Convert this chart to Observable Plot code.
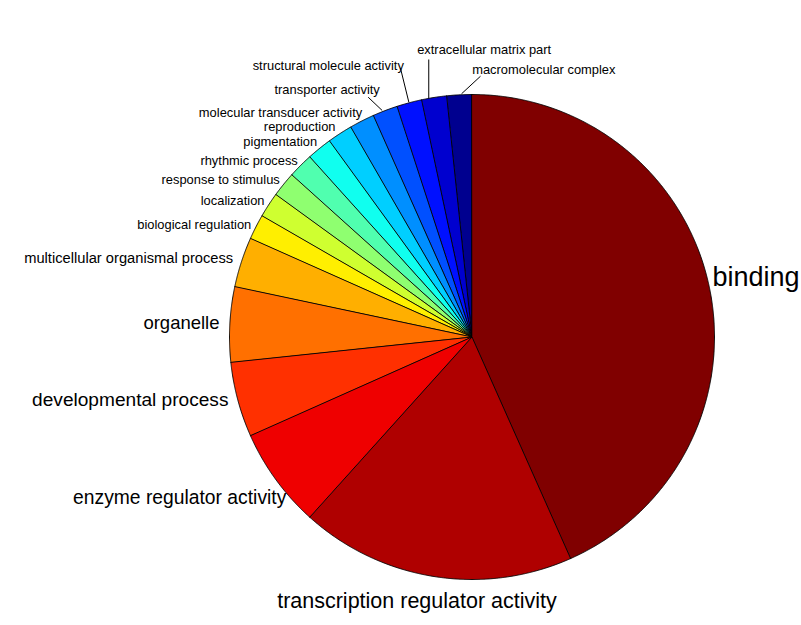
<!DOCTYPE html>
<html>
<head>
<meta charset="utf-8">
<script src="https://cdn.jsdelivr.net/npm/d3@7"></script>
<script src="https://cdn.jsdelivr.net/npm/@observablehq/plot@0.6"></script>
<style>
  html, body { margin: 0; padding: 0; background: #fff; }
</style>
</head>
<body>
<div id="chart"></div>
<script>
// ---- DATA (slices in drawing order: counter-clockwise from 12 o'clock) ----
const categories = [
  "macromolecular complex",
  "extracellular matrix part",
  "structural molecule activity",
  "transporter activity",
  "molecular transducer activity",
  "reproduction",
  "pigmentation",
  "rhythmic process",
  "response to stimulus",
  "localization",
  "biological regulation",
  "multicellular organismal process",
  "organelle",
  "developmental process",
  "enzyme regulator activity",
  "transcription regulator activity",
  "binding"
];
const counts = [1, 1, 1, 1, 1, 1, 1, 1, 1, 1, 1, 2, 3, 3, 4, 11, 26];

// ---- LAYOUT / STYLE (not data) ----
const W = 801, H = 625, CX = 471.5, CY = 336.5, R = 242.5;
// label baseline point offset (px, right/down) from the slice's mid point on the rim
const labelStyle = {
  "macromolecular complex":           {size: 12.9, anchor: "start",  dx: 12.9,  dy: -21.0},
  "extracellular matrix part":        {size: 12.9, anchor: "start",  dx: -16.9, dy: -43.0},
  "structural molecule activity":     {size: 12.9, anchor: "end",    dx: -5.4,  dy: -32.3},
  "transporter activity":             {size: 12.9, anchor: "end",    dx: -5.3,  dy: -16.8},
  "molecular transducer activity":    {size: 12.9, anchor: "end",    dx: 0.3,   dy: -3.7},
  "reproduction":                     {size: 12.9, anchor: "end",    dx: -4.4,  dy: -2.4},
  "pigmentation":                     {size: 12.9, anchor: "end",    dx: -2.2,  dy: -2.1},
  "rhythmic process":                 {size: 12.9, anchor: "end",    dx: -2.7,  dy: -0.7},
  "response to stimulus":             {size: 12.9, anchor: "end",    dx: -3.8,  dy: -0.6},
  "localization":                     {size: 12.9, anchor: "end",    dx: -4.1,  dy: -0.1},
  "biological regulation":            {size: 12.9, anchor: "end",    dx: -4.7,  dy: 1.9},
  "multicellular organismal process": {size: 14.7, anchor: "end",    dx: -8.2,  dy: 1.4},
  "organelle":                        {size: 18.5, anchor: "end",    dx: -10.3, dy: 4.2},
  "developmental process":            {size: 19.1, anchor: "end",    dx: -9.3,  dy: 6.7},
  "enzyme regulator activity":        {size: 19.3, anchor: "end",    dx: 10.5,  dy: 24.0},
  "transcription regulator activity": {size: 21.5, anchor: "middle", dx: -17.1, dy: 31.0},
  "binding":                          {size: 27,   anchor: "start",  dx: 3.3,   dy: -0.1}
};
// leader lines: [inner offset, outer offset] in px from the slice's rim mid point
const leaderStyle = {
  "macromolecular complex":       [[2.2, -1.0], [21.2, -18.6]],
  "extracellular matrix part":    [[-5.3, 1.0], [-5.3, -38.0]],
  "structural molecule activity": [[-0.4, -0.6], [-8.7, -34.3]],
  "transporter activity":         [[-2.9, -0.1], [-16.9, -13.4]]
};

// MATLAB jet(m) colormap
function jetMap(m) {
  const n = Math.ceil(m / 4);
  const u = [];
  for (let i = 1; i <= n; i++) u.push(i / n);
  for (let i = 1; i < n; i++) u.push(1);
  for (let i = n; i >= 1; i--) u.push(i / n);
  const g0 = Math.ceil(n / 2) - (m % 4 === 1 ? 1 : 0);
  const J = Array.from({length: m}, () => [0, 0, 0]);
  u.forEach((v, j) => {
    const g = g0 + j + 1, r = g + n, b = g - n;
    if (r >= 1 && r <= m) J[r - 1][0] = v;
    if (g >= 1 && g <= m) J[g - 1][1] = v;
    if (b >= 1 && b <= m) J[b - 1][2] = v;
  });
  return J.map(([r, g, b]) => d3.rgb(r * 255, g * 255, b * 255).formatHex());
}
const JET = jetMap(64);
const jetInterp = (t) => JET[Math.max(0, Math.min(63, Math.floor(t * 64 + 1e-9)))];

// ---- build slices from data ----
const total = d3.sum(counts);
let acc = 0;
const slices = categories.map((c, i) => {
  const a0 = acc / total * 2 * Math.PI;
  acc += counts[i];
  const a1 = acc / total * 2 * Math.PI;
  return {category: c, index: i + 1, a0, a1, mid: (a0 + a1) / 2};
});
const pts = [];
for (const s of slices) {
  pts.push({slice: s.category, index: s.index, x: 0, y: 0});
  const n = Math.max(2, Math.ceil((s.a1 - s.a0) / (Math.PI / 720)));
  for (let k = 0; k <= n; k++) {
    const a = s.a0 + (s.a1 - s.a0) * k / n;
    pts.push({slice: s.category, index: s.index, x: -Math.sin(a), y: Math.cos(a)});
  }
}
const labels = slices.map(s => {
  const st = labelStyle[s.category];
  return {
    text: s.category, size: st.size, anchor: st.anchor,
    x: -Math.sin(s.mid) + st.dx / R,
    y: Math.cos(s.mid) - st.dy / R
  };
});
const leaders = slices.filter(s => leaderStyle[s.category]).map(s => {
  const [inn, out] = leaderStyle[s.category];
  const rx = -Math.sin(s.mid), ry = Math.cos(s.mid);
  return {x1: rx + inn[0] / R, y1: ry - inn[1] / R, x2: rx + out[0] / R, y2: ry - out[1] / R};
});

const textMark = (anchor) => Plot.text(labels.filter(d => d.anchor === anchor), {
  x: "x", y: "y", text: "text", fontSize: "size",
  textAnchor: anchor, lineAnchor: "bottom", fill: "black"
});

const chart = Plot.plot({
  width: W,
  height: H,
  marginLeft: CX - R,
  marginRight: W - (CX + R),
  marginTop: CY - R,
  marginBottom: H - (CY + R),
  x: {domain: [-1, 1], axis: null},
  y: {domain: [-1, 1], axis: null},
  color: {type: "linear", domain: [1, 17], interpolate: jetInterp},
  style: {fontFamily: '"Liberation Sans", Arial, sans-serif', background: "white", overflow: "visible"},
  marks: [
    Plot.line(pts, {x: "x", y: "y", z: "slice", fill: "index", stroke: "black", strokeWidth: 0.9, curve: "linear-closed"}),
    Plot.link(leaders, {x1: "x1", y1: "y1", x2: "x2", y2: "y2", stroke: "black", strokeWidth: 1}),
    textMark("start"),
    textMark("end"),
    textMark("middle")
  ]
});
document.getElementById("chart").appendChild(chart);
</script>
</body>
</html>
